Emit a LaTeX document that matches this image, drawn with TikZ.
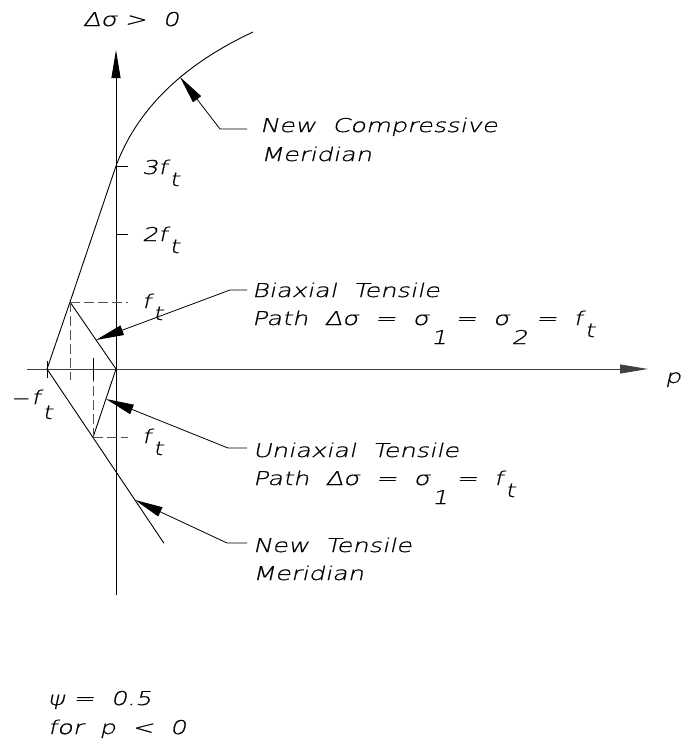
\documentclass[tikz,border=0pt]{standalone}
\usepackage{fontspec}
\newfontfamily\cad{DejaVu Sans ExtraLight}[FakeSlant=0.22,FakeStretch=1.35,FakeBold=0.7]
\usetikzlibrary{arrows.meta,calc}
\newcommand\lo[2][12pt]{\kern2pt\raisebox{-#1}{#2}}
\begin{document}
\begin{tikzpicture}[x=1pt,y=-1pt,
  ln/.style={line width=0.9pt, black},
  axline/.style={line width=0.9pt, black!75},
  dsh/.style={line width=1pt, black!68, dash pattern=on 10pt off 4pt},
  txt/.style={inner sep=0pt, outer sep=0pt, anchor=base west, font=\cad\fontsize{19}{23}\selectfont},
  axisarrow/.style={-{Triangle[length=28pt,width=9pt]}},
  leader/.style={line width=0.8pt, black, -{Triangle[length=28pt,width=10pt]}}
]
\useasboundingbox (0,0) rectangle (685,744);
% key points
\coordinate (O) at (116,369);
\coordinate (A) at (70,302);
\coordinate (B) at (47,369);
\coordinate (C) at (93,437.5);
\coordinate (M) at (164,543.3);
\coordinate (T3) at (116,166);
\coordinate (E) at (253,32);
\coordinate (xl) at (27,369);
\coordinate (xr) at (648,369);
\coordinate (yb) at (116,595);
\coordinate (yt) at (116,50);
% axes
\draw[ln,axisarrow] (yb) -- (yt);
\draw[axline,axisarrow] (xl) -- (xr);
% meridians
\draw[ln] (M) -- (C) -- (B) -- (A) -- (T3) .. controls (137.07,109.47) and (182.73,64.8) .. (E);
\draw[ln] (A) -- (O) -- (C);
% ticks
\draw[ln] (T3) -- ++(12,0);
\draw[ln] (116,234) -- ++(12,0);
\draw[ln] (47,361) -- (47,378);
\draw[ln] (93,358) -- (93,380);
% dashed projections
\draw[dsh] (A) -- (128,302);
\draw[dsh] (A) -- (70,380);
\draw[dsh] (C) -- (128,437.5);
\draw[dsh] (C) -- (93,380);
% labels
\node[txt] (dsig) at (83,26) {Δσ~>~~0};
\node[txt] (pl) at (665,383) {p};
\node[txt] (l3) at (142,174) {3f\lo{t}};
\node[txt] (l2) at (142,241) {2f\lo{t}};
\node[txt] (l1a) at (142,308) {f\lo{t}};
\node[txt] (l1b) at (142,443) {f\lo{t}};
\node[txt] (lm) at (11,404) {\scalebox{1.35}[1]{–}\kern3pt f\lo[15pt]{t}};
\node[txt] (nc1) at (260,132) {New~~Compressive};
\node[txt] (nc2) at (261,161) {Meridian};
\node[txt] (bi1) at (252,297) {Biaxial~~Tensile};
\node[txt] (bi2) at (252,325) {Path~~Δσ~~=~~σ\lo[19pt]{1}~=~~σ\lo[19pt]{2}~=~~f\lo{t}};
\node[txt] (un1) at (253,457) {Uniaxial~~Tensile};
\node[txt] (un2) at (253,485) {Path~~Δσ~~=~~σ\lo[19pt]{1}~=~~f\lo{t}};
\node[txt] (nt1) at (253,552) {New~~Tensile};
\node[txt] (nt2) at (253,580) {Meridian};
\node[txt] (psi) at (48,705) {ψ~=~~0.5};
\node[txt] (forp) at (48,734) {for~~p~~<~~0};
% leaders
\coordinate (tc) at (180,77);
\coordinate (tb) at (96,340);
\coordinate (tu) at (106,399);
\coordinate (tt) at (135,500);
\draw[leader] ($(nc1.base west)+(-13,-3)$) -- ($(nc1.base west)+(-40,-3)$) -- (tc);
\draw[leader] ($(bi1.base west)+(-5,-7)$) -- ($(bi1.base west)+(-22,-7)$) -- (tb);
\draw[leader] ($(un1.base west)+(-6,-9)$) -- ($(un1.base west)+(-25,-9)$) -- (tu);
\draw[leader] ($(nt1.base west)+(-6,-9)$) -- ($(nt1.base west)+(-26,-9)$) -- (tt);
\end{tikzpicture}
\end{document}
